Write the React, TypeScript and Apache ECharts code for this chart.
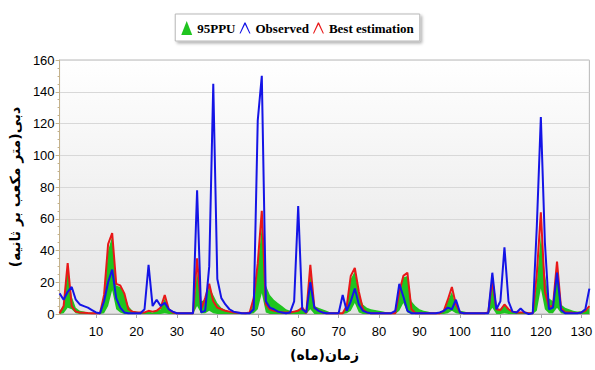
import React, { useEffect, useRef } from "react";
import * as echarts from "echarts";

const months: string[] = Array.from({ length: 132 }, (_, i) => String(i + 1));

const observed: number[] = [
  13, 9, 14, 17, 9, 6, 5, 4, 2.5, 1,
  0.5, 8, 20, 28, 10, 4, 1, 0.5, 0.5, 0.5,
  0.5, 3, 31, 5, 9, 5, 7, 3, 1.5, 0.5,
  0.5, 0.5, 0.5, 0.5, 78, 1, 2, 30, 145, 22,
  10, 6, 3, 1.5, 1, 0.5, 0.5, 0.5, 3, 122,
  150, 8, 4, 3, 1.5, 1, 0.5, 1, 8, 68,
  3, 1, 20, 4, 2, 1, 0.5, 0.5, 0.5, 0.5,
  12, 2, 8, 16, 6, 2, 1, 0.5, 0.5, 0.5,
  0.5, 0.5, 0.5, 2, 19, 11, 2, 0.5, 0.5, 0.5,
  0.5, 0.5, 0.5, 0.5, 1, 2, 4, 3, 9, 1,
  0.5, 0.5, 0.5, 0.5, 0.5, 0.5, 0.5, 26, 3, 8,
  42, 8, 1.5, 1, 3.5, 1, 0, 0.5, 55, 124,
  45, 3, 4, 26, 2.5, 0.5, 0.5, 0.5, 0.5, 1,
  3, 16,
];

const bestEstimation: number[] = [
  0.5, 5, 32, 5, 1.5, 1, 0.8, 0.6, 0.5, 0.5,
  0.5, 12, 44, 51, 19, 18, 13, 3, 1.5, 1,
  1, 1, 2, 1.5, 2, 4, 12, 3, 1, 0.5,
  0.5, 0.5, 0.5, 0.5, 35, 3, 10, 19, 8, 4,
  3, 2, 1.5, 1, 0.8, 0.6, 0.5, 1, 10, 32,
  65, 6, 3, 2, 1.5, 1, 1, 1, 1.5, 2,
  4, 0.5, 31, 4, 2, 1, 0.5, 0.5, 0.5, 0.5,
  0.5, 5, 24, 29, 14, 3, 1, 0.5, 0.5, 0.5,
  0.5, 0.5, 0.5, 0.5, 14, 24, 26, 3, 0.5, 0.5,
  0.5, 0.5, 0.5, 0.5, 0.5, 2, 9, 17, 6, 1,
  0.5, 0.5, 0.5, 0.5, 0.5, 0.5, 1, 21, 3, 2.5,
  6, 3, 1.5, 1, 1, 1, 0.5, 0.5, 25, 64,
  14, 4.6, 5, 33, 3.6, 1, 1, 0.8, 0.7, 1,
  2, 5,
];

const ppuLower: number[] = [
  0, 0.5, 4, 3, 0.5, 0, 0, 0, 0, 0,
  0, 0.5, 5, 15, 3, 1, 0, 0, 0, 0,
  0, 0, 0, 0, 0, 0, 0.5, 0, 0, 0,
  0, 0, 0, 0, 5, 0.5, 0.5, 2, 0.5, 0,
  0, 0, 0, 0, 0, 0, 0, 0, 0.5, 3,
  13, 1, 0, 0, 0, 0, 0, 0, 0, 0,
  0, 0, 3, 0, 0, 0, 0, 0, 0, 0,
  0, 0.5, 2, 7, 1, 0, 0, 0, 0, 0,
  0, 0, 0, 0, 2, 7, 1, 0, 0, 0,
  0, 0, 0, 0, 0, 0, 0.5, 2, 0.5, 0,
  0, 0, 0, 0, 0, 0, 0, 4, 0, 0,
  0.5, 0, 0, 0, 0, 0, 0, 0, 2, 16,
  3, 0.5, 0.5, 4, 0.5, 0, 0, 0, 0, 0,
  0, 0,
];

const ppuUpper: number[] = [
  2, 5, 28, 11, 4, 2, 1.5, 1, 1, 0.8,
  0.8, 10, 40, 49, 18, 17, 13, 5, 2, 1.5,
  1, 1, 1.5, 1, 2, 3, 10, 3, 1, 0.8,
  0.8, 0.8, 0.8, 0.8, 27, 8, 9, 17, 12, 7,
  4, 2.5, 1.5, 1, 1, 0.8, 0.8, 1, 8, 30,
  55, 18, 12, 9, 7, 5, 3, 2, 1.5, 3,
  3, 1, 25, 5, 4, 3, 2, 1, 1, 0.8,
  0.8, 5, 22, 27, 13, 6, 4, 3, 2.5, 2,
  1.5, 1, 0.8, 1, 13, 23, 24, 8, 5, 3,
  2, 1.5, 1, 0.8, 0.8, 2, 8, 14, 5, 2,
  1.5, 1, 0.8, 0.8, 0.8, 0.8, 1, 18, 4, 3,
  6, 3, 2, 1.5, 1, 1, 0.8, 0.8, 20, 50,
  25, 10, 8, 28, 6, 4, 3, 2, 1.5, 1.5,
  2, 4,
];

const yTicks = { min: 0, max: 160, interval: 20 };
const xLabelEvery = 10;

const GREEN = "#1fc41f";
const BLUE = "#1414e6";
const RED = "#e81818";

export default function App() {
  const ref = useRef<HTMLDivElement>(null);

  useEffect(() => {
    if (!ref.current) return;
    const chart = echarts.init(ref.current, undefined, { renderer: "svg" });
    const bandWidth = ppuUpper.map((u, i) => Math.max(0, u - ppuLower[i]));
    const showEvery = (index: number) => (index + 1) % xLabelEvery === 0;
    const caret = "path://M0,20 L9,0 L11,0 L20,20 L18,20 L10,3.5 L2,20 Z";
    const numFont = "'Liberation Sans Narrow', 'Liberation Sans', Arial, sans-serif";

    chart.setOption({
      animation: false,
      backgroundColor: "#ffffff",
      legend: {
        top: 14,
        left: "center",
        data: [
          { name: "95PPU", icon: "triangle", itemStyle: { color: GREEN } },
          { name: "Observed", icon: caret, itemStyle: { color: BLUE } },
          { name: "Best estimation", icon: caret, itemStyle: { color: RED } },
        ],
        itemWidth: 11,
        itemHeight: 14,
        itemGap: 4,
        padding: [7, 6, 6, 6],
        backgroundColor: "#ffffff",
        borderColor: "#b8b8b8",
        borderWidth: 1,
        shadowBlur: 3,
        shadowColor: "rgba(0,0,0,0.3)",
        shadowOffsetX: 2,
        shadowOffsetY: 2,
        textStyle: {
          fontFamily: "'Liberation Serif', 'Times New Roman', serif",
          fontWeight: "bold",
          fontSize: 13,
          color: "#000",
        },
        selectedMode: false,
      },
      grid: {
        left: 51,
        right: 4,
        top: 60,
        bottom: 56,
        show: true,
        borderColor: "#b8b8b8",
        borderWidth: 1,
        backgroundColor: new echarts.graphic.LinearGradient(0, 0, 0, 1, [
          { offset: 0, color: "#ffffff" },
          { offset: 1, color: "#e4e4e4" },
        ]),
      },
      xAxis: {
        type: "category",
        data: months,
        boundaryGap: false,
        name: "زمان(ماه)",
        nameLocation: "middle",
        nameGap: 34,
        nameTextStyle: {
          fontFamily: "'DejaVu Sans', sans-serif",
          fontWeight: "bold",
          fontSize: 14,
          color: "#000",
        },
        axisLine: { lineStyle: { color: "#a8a8a8" } },
        axisTick: { interval: showEvery, length: 4, lineStyle: { color: "#a8a8a8" } },
        axisLabel: {
          interval: showEvery,
          margin: 11,
          fontFamily: numFont,
          fontSize: 13,
          color: "#000",
        },
        splitLine: { show: false },
      },
      yAxis: {
        type: "value",
        min: yTicks.min,
        max: yTicks.max,
        interval: yTicks.interval,
        name: "دبی(متر مکعب بر ثانیه)",
        nameLocation: "middle",
        nameGap: 29,
        nameTextStyle: {
          fontFamily: "'DejaVu Sans', sans-serif",
          fontWeight: "bold",
          fontSize: 14,
          color: "#000",
        },
        axisLine: { show: true, lineStyle: { color: "#c4b28c" } },
        axisTick: { show: true, length: 4, lineStyle: { color: "#c4b28c" } },
        minorTick: { show: true, splitNumber: 4, length: 2, lineStyle: { color: "#c4b28c" } },
        axisLabel: {
          margin: 5,
          fontFamily: numFont,
          fontSize: 13,
          color: "#000",
        },
        splitLine: { lineStyle: { color: "#d8d8d8", width: 1 } },
      },
      series: [
        {
          name: "lower",
          type: "line",
          stack: "ppu",
          data: ppuLower,
          symbol: "none",
          lineStyle: { width: 0, opacity: 0 },
          silent: true,
          z: 1,
        },
        {
          name: "95PPU",
          type: "line",
          stack: "ppu",
          data: bandWidth,
          symbol: "none",
          lineStyle: { width: 0, opacity: 0 },
          itemStyle: { color: GREEN },
          areaStyle: { color: GREEN, opacity: 1 },
          silent: true,
          z: 2,
        },
        {
          name: "Best estimation",
          type: "line",
          data: bestEstimation,
          symbol: "none",
          lineStyle: { color: RED, width: 2 },
          itemStyle: { color: RED },
          z: 3,
        },
        {
          name: "Observed",
          type: "line",
          data: observed,
          symbol: "none",
          lineStyle: { color: BLUE, width: 2 },
          itemStyle: { color: BLUE },
          z: 4,
        },
      ],
    });
    return () => chart.dispose();
  }, []);

  return (
    <div
      ref={ref}
      style={{ position: "fixed", left: 0, top: 0, width: 595, height: 370 }}
    />
  );
}
